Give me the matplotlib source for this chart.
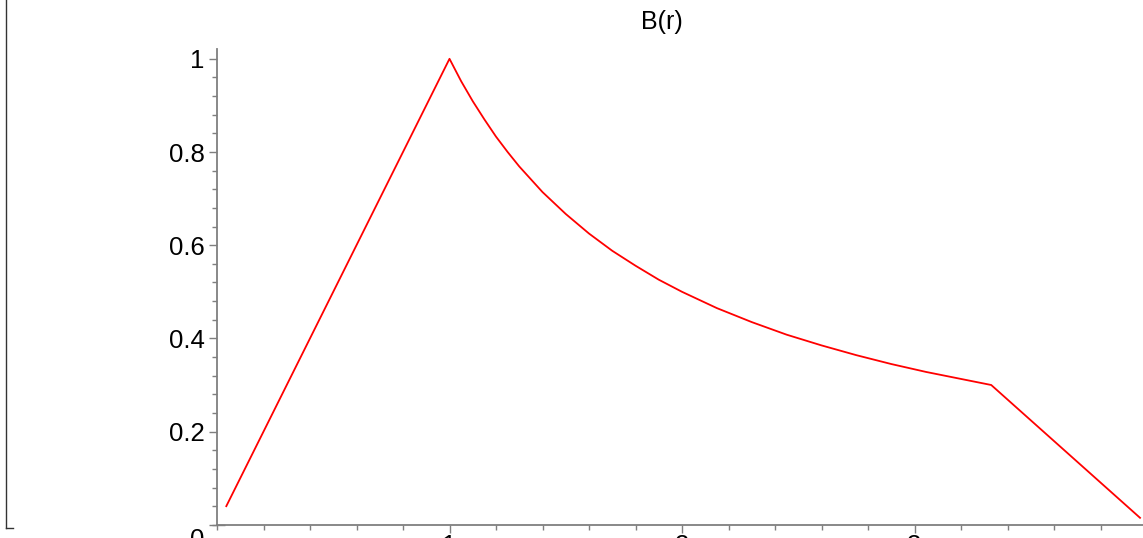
import matplotlib
matplotlib.use("Agg")
import matplotlib.pyplot as plt
from matplotlib.ticker import MultipleLocator, FixedLocator
from matplotlib.lines import Line2D

r_values = [0.04, 1.0, 1.05, 1.1, 1.15, 1.2, 1.25, 1.3, 1.4, 1.5, 1.6, 1.7, 1.8,
            1.9, 2.0, 2.15, 2.3, 2.45, 2.6, 2.75, 2.9, 3.05, 3.2, 3.33, 3.97]
b_values = [0.04, 1.0, 0.952, 0.909, 0.870, 0.833, 0.800, 0.769, 0.714, 0.667,
            0.625, 0.588, 0.556, 0.526, 0.500, 0.465, 0.435, 0.408, 0.385,
            0.364, 0.345, 0.328, 0.313, 0.300, 0.015]
y_ticks = [0.2, 0.4, 0.6, 0.8, 1]
y_tick_labels = ["0.2", "0.4", "0.6", "0.8", "1"]
zero_label = "0"
x_ticks = [1, 2, 3]
x_tick_labels = ["1", "2", "3"]
title = "B(r)"

plt.rcParams['font.family'] = ['Liberation Sans', 'DejaVu Sans']

W, H = 1143, 538
fig = plt.figure(figsize=(W / 100, H / 100), dpi=100)

x0_px, unit_x = 217, 232.5
y0_px, unit_y = 524.8, 466.0
ymax = 1.02
left = x0_px / W
bottom = (H - y0_px) / H
height = ymax * unit_y / H
width = 1 - left
ax = fig.add_axes([left, bottom, width, height])

ax.plot(r_values, b_values, color="#ff0000", lw=1.3)

ax.set_xlim(0, (W - x0_px) / unit_x)
ax.set_ylim(0, ymax)

for s in ["top", "right"]:
    ax.spines[s].set_visible(False)
axis_col = "#7f7f7f"
for s in ["left", "bottom"]:
    ax.spines[s].set_color(axis_col)
    ax.spines[s].set_linewidth(1.3)

ax.yaxis.set_major_locator(FixedLocator(y_ticks))
ax.set_yticklabels(y_tick_labels)
ax.yaxis.set_minor_locator(MultipleLocator(0.04))
ax.xaxis.set_major_locator(FixedLocator(x_ticks))
ax.set_xticklabels(x_tick_labels)
ax.xaxis.set_minor_locator(MultipleLocator(0.2))

ax.tick_params(axis="both", which="major", length=5.5, width=1, color=axis_col,
               labelsize=18.5, labelcolor="black")
ax.tick_params(axis="y", which="major", pad=3.5)
ax.tick_params(axis="x", which="major", pad=1.0)
ax.tick_params(axis="both", which="minor", length=3.5, width=1, color=axis_col)
# small tick at the origin on the y axis
ax.plot([0], [0], marker="_", markersize=11, color=axis_col, clip_on=False,
        markeredgewidth=1)

ax.annotate(zero_label, xy=(0, 0), xytext=(-9.4, -2.5), textcoords="offset points",
            ha="right", va="top", fontsize=18.5, annotation_clip=False)

fig.text(662 / W, 1 - 22 / H, title, ha="center", va="center", fontsize=18)

# left border bracket
fig.add_artist(Line2D([5.5 / W, 5.5 / W], [1 - 0 / H, 1 - 528 / H],
                      transform=fig.transFigure, color="#333333", lw=1))
fig.add_artist(Line2D([5.5 / W, 13 / W], [1 - 528 / H, 1 - 528 / H],
                      transform=fig.transFigure, color="#333333", lw=1))

fig.savefig("out.png", dpi=100)
